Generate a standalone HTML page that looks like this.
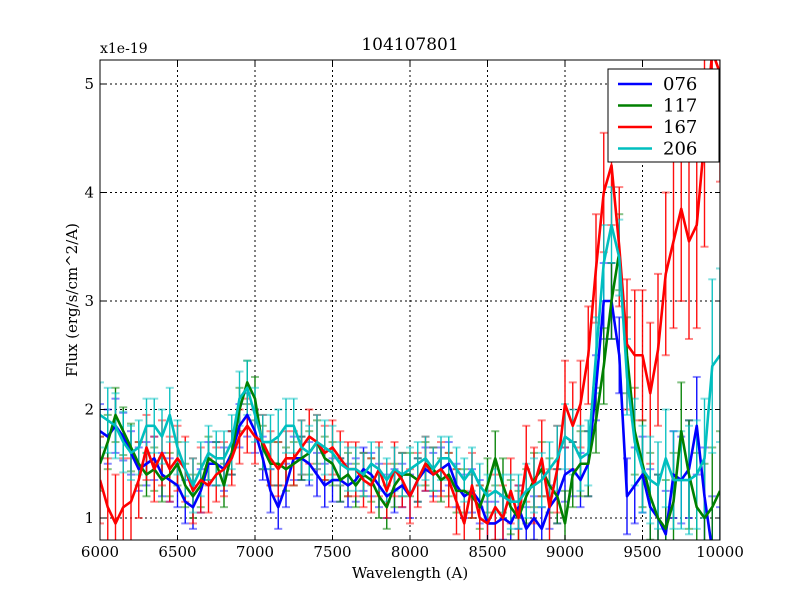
<!DOCTYPE html>
<html><head><meta charset="utf-8"><style>
body{margin:0;background:#fff}
svg text{font-family:"DejaVu Serif","Liberation Serif",serif;fill:#000}
</style></head><body>
<svg id="chart" width="800" height="600" xmlns="http://www.w3.org/2000/svg">
<rect width="800" height="600" fill="#fff"/>
<g id="grid"></g>
<clipPath id="clip"><rect x="100" y="60" width="620" height="480"/></clipPath>
<g id="series" clip-path="url(#clip)"></g>
<rect x="100" y="60" width="620" height="480" fill="none" stroke="#000" stroke-width="1"/>
<g id="ticks"></g>
<text x="410" y="50" font-size="17" text-anchor="middle">104107801</text>
<text x="100" y="53" font-size="14">x1e-19</text>
<text x="410" y="578" font-size="15" text-anchor="middle">Wavelength (A)</text>
<text x="77" y="300" font-size="15" text-anchor="middle" transform="rotate(-90 77 300)">Flux (erg/s/cm^2/A)</text>
<g id="legend"></g>
</svg>
<script>
const wavelengths=[];for(let w=6000;w<=10000;w+=50)wavelengths.push(w);
const seriesNames=["076","117","167","206"];
const seriesColors=["#0000ff","#008000","#ff0000","#00bfbf"];
const flux076=[1.8,1.75,1.85,1.75,1.6,1.45,1.5,1.55,1.4,1.35,1.3,1.15,1.1,1.25,1.5,1.5,1.45,1.6,1.85,1.95,1.8,1.55,1.25,1.1,1.3,1.55,1.55,1.5,1.4,1.3,1.35,1.35,1.3,1.35,1.45,1.4,1.3,1.2,1.25,1.3,1.2,1.35,1.45,1.4,1.45,1.5,1.3,1.2,1.25,1.15,0.95,0.95,1.0,0.95,1.1,0.9,1.0,0.9,1.1,1.2,1.4,1.45,1.35,1.5,2.2,3.0,3.0,2.5,1.2,1.3,1.4,1.1,1.0,0.85,1.4,1.35,1.45,1.85,1.2,0.7,0.6];
const flux117=[1.5,1.7,1.95,1.8,1.65,1.5,1.4,1.45,1.35,1.4,1.5,1.3,1.2,1.3,1.55,1.5,1.3,1.6,2.0,2.25,2.1,1.65,1.5,1.5,1.45,1.5,1.55,1.6,1.7,1.55,1.5,1.35,1.4,1.3,1.4,1.35,1.2,1.1,1.3,1.4,1.4,1.35,1.5,1.45,1.35,1.4,1.25,1.25,1.2,1.1,1.3,1.55,1.3,1.1,1.0,1.2,1.35,1.45,1.3,1.2,0.95,1.4,1.5,1.5,1.9,2.4,3.0,3.45,2.5,1.8,1.5,1.2,1.0,0.9,1.15,1.8,1.4,1.1,1.0,1.1,1.25];
const flux167=[1.35,1.1,0.95,1.1,1.15,1.35,1.65,1.45,1.6,1.45,1.55,1.45,1.25,1.35,1.3,1.4,1.45,1.55,1.75,1.85,1.75,1.7,1.55,1.45,1.55,1.55,1.65,1.75,1.7,1.6,1.65,1.55,1.45,1.45,1.35,1.3,1.45,1.25,1.45,1.35,1.2,1.35,1.5,1.4,1.45,1.35,1.15,0.95,1.3,1.0,0.95,1.1,1.0,1.25,1.0,1.5,1.3,1.55,1.1,1.45,2.05,1.85,2.05,2.5,3.3,4.0,4.25,3.5,2.6,2.5,2.5,2.15,2.55,3.25,3.55,3.85,3.55,3.7,4.5,5.3,5.1];
const flux206=[1.95,1.9,1.85,1.7,1.6,1.65,1.85,1.85,1.75,1.95,1.65,1.45,1.3,1.45,1.6,1.55,1.55,1.7,2.1,2.2,1.95,1.7,1.7,1.75,1.85,1.85,1.65,1.6,1.7,1.65,1.6,1.5,1.45,1.45,1.4,1.5,1.45,1.35,1.45,1.4,1.45,1.5,1.55,1.45,1.55,1.55,1.45,1.35,1.45,1.3,1.2,1.25,1.2,1.15,1.15,1.25,1.3,1.35,1.45,1.55,1.75,1.7,1.55,1.6,2.5,3.35,3.7,3.4,2.3,1.7,1.45,1.35,1.3,1.55,1.35,1.35,1.35,1.4,1.55,2.4,2.5];
const err076=[0.25,0.25,0.25,0.22,0.2,0.2,0.2,0.2,0.2,0.2,0.2,0.2,0.2,0.2,0.2,0.2,0.2,0.2,0.2,0.2,0.2,0.2,0.2,0.2,0.2,0.2,0.2,0.2,0.2,0.2,0.2,0.2,0.2,0.2,0.2,0.2,0.2,0.2,0.2,0.2,0.2,0.2,0.2,0.2,0.2,0.2,0.2,0.2,0.2,0.2,0.2,0.2,0.2,0.2,0.2,0.2,0.2,0.2,0.2,0.25,0.25,0.25,0.25,0.3,0.3,0.35,0.35,0.35,0.35,0.35,0.35,0.35,0.4,0.4,0.4,0.4,0.45,0.45,0.45,0.5,0.5];
const err117=[0.25,0.25,0.25,0.22,0.22,0.2,0.2,0.2,0.2,0.2,0.2,0.2,0.2,0.2,0.2,0.2,0.2,0.2,0.2,0.2,0.2,0.2,0.2,0.2,0.2,0.2,0.2,0.2,0.2,0.2,0.2,0.2,0.2,0.2,0.2,0.2,0.2,0.2,0.2,0.2,0.2,0.2,0.2,0.2,0.2,0.2,0.2,0.2,0.2,0.2,0.25,0.25,0.25,0.25,0.25,0.25,0.25,0.25,0.25,0.25,0.3,0.3,0.3,0.3,0.3,0.35,0.35,0.35,0.35,0.4,0.4,0.4,0.4,0.45,0.45,0.45,0.5,0.5,0.5,0.55,0.55];
const err167=[0.4,0.45,0.45,0.45,0.4,0.35,0.3,0.3,0.3,0.3,0.3,0.3,0.3,0.3,0.25,0.25,0.25,0.25,0.25,0.25,0.25,0.25,0.25,0.25,0.25,0.25,0.25,0.25,0.25,0.25,0.25,0.25,0.25,0.25,0.25,0.25,0.25,0.25,0.25,0.25,0.25,0.25,0.25,0.25,0.25,0.25,0.3,0.3,0.3,0.3,0.3,0.3,0.3,0.3,0.3,0.35,0.35,0.35,0.35,0.4,0.4,0.4,0.4,0.45,0.5,0.55,0.55,0.55,0.6,0.6,0.6,0.65,0.7,0.75,0.8,0.85,0.9,0.95,1.0,1.0,1.0];
const err206=[0.3,0.3,0.3,0.28,0.25,0.25,0.25,0.25,0.25,0.25,0.25,0.25,0.25,0.25,0.25,0.25,0.25,0.25,0.25,0.25,0.25,0.25,0.25,0.25,0.25,0.25,0.25,0.25,0.25,0.25,0.25,0.2,0.2,0.2,0.2,0.2,0.2,0.2,0.2,0.2,0.2,0.2,0.2,0.2,0.2,0.2,0.2,0.2,0.2,0.2,0.2,0.2,0.2,0.25,0.25,0.25,0.25,0.25,0.25,0.3,0.3,0.3,0.3,0.3,0.35,0.35,0.35,0.35,0.35,0.4,0.4,0.4,0.4,0.45,0.45,0.45,0.5,0.5,0.55,0.8,0.8];
const xTicks=[6000,6500,7000,7500,8000,8500,9000,9500,10000];
const yTicks=[1,2,3,4,5];
const fluxes=[flux076,flux117,flux167,flux206];
const errs=[err076,err117,err167,err206];

const NS="http://www.w3.org/2000/svg";
function X(w){return 100+(w-6000)/4000*620;}
function Y(v){return 518-(v-1)*108.5;}
function mk(tag,attrs,parent){const e=document.createElementNS(NS,tag);for(const k in attrs)e.setAttribute(k,attrs[k]);parent.appendChild(e);return e;}
const grid=document.getElementById('grid'),ticks=document.getElementById('ticks'),ser=document.getElementById('series'),leg=document.getElementById('legend');
xTicks.forEach(t=>{const x=X(t);
 if(t>6000&&t<10000){const g=mk('line',{x1:x,x2:x,y1:60,y2:540,stroke:'#000','stroke-dasharray':'2,3','stroke-width':1},grid);
 
 }
 mk('line',{x1:x,x2:x,y1:540,y2:535,stroke:'#000'},ticks);mk('line',{x1:x,x2:x,y1:60,y2:65,stroke:'#000'},ticks);
 const tx=mk('text',{x:x,y:557,'font-size':15,'text-anchor':'middle'},ticks);tx.textContent=t;
 
 });
yTicks.forEach(t=>{const y=Y(t);
 const g=mk('line',{x1:100,x2:720,y1:y,y2:y,stroke:'#000','stroke-dasharray':'2,3','stroke-width':1},grid);
 
 
 mk('line',{x1:100,x2:105,y1:y,y2:y,stroke:'#000'},ticks);mk('line',{x1:715,x2:720,y1:y,y2:y,stroke:'#000'},ticks);
 const tx=mk('text',{x:94,y:y+5,'font-size':15,'text-anchor':'end'},ticks);tx.textContent=t;
 
 });
fluxes.forEach((f,i)=>{const c=seriesColors[i];
 const eg=mk('g',{stroke:c,'stroke-width':1.4,opacity:0.95},ser);
 
 
 f.forEach((v,j)=>{const x=X(wavelengths[j]),y1=Y(v-errs[i][j]),y2=Y(v+errs[i][j]);
  mk('line',{x1:x,x2:x,y1:y1,y2:y2},eg);
  mk('line',{x1:x-4,x2:x+4,y1:y1,y2:y1,opacity:0.5,'stroke-width':2},eg);
  mk('line',{x1:x-4,x2:x+4,y1:y2,y2:y2,opacity:0.5,'stroke-width':2},eg);});
});
fluxes.forEach((f,i)=>{
 const p=mk('polyline',{points:f.map((v,j)=>X(wavelengths[j])+','+Y(v)).join(' '),fill:'none',stroke:seriesColors[i],'stroke-width':2.6,'stroke-linejoin':'round'},ser);
 
 
});
mk('rect',{x:608,y:69,width:111,height:93,fill:'#fff',stroke:'#000','stroke-width':1},leg);
seriesNames.forEach((n,i)=>{const y=84+i*21.5;
 const l=mk('line',{x1:618,x2:652,y1:y,y2:y,stroke:seriesColors[i],'stroke-width':2.6},leg);
 
 
 const t=mk('text',{x:663,y:y+6,'font-size':18},leg);t.textContent=n;
 
 });
</script>
</body></html>
